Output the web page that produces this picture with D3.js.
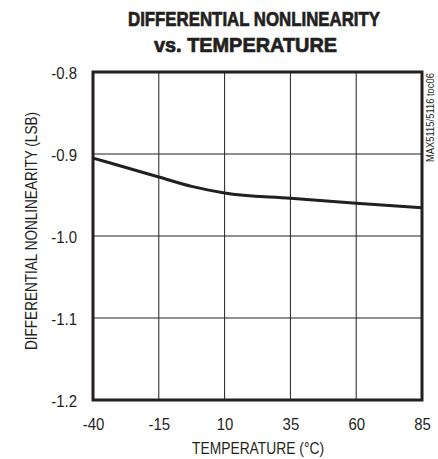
<!DOCTYPE html>
<html>
<head>
<meta charset="utf-8">
<script src="https://cdn.jsdelivr.net/npm/d3@7"></script>
<style>
  body { margin: 0; background: #fff; }
  text { font-family: "Liberation Sans", Arial, sans-serif; fill: #231f20; }
</style>
</head>
<body>
<div id="chart"></div>
<script>
var temps = [-40, -27.5, -15, -2.5, 10, 35, 60, 85];
var dnl = [-0.905, -0.9165, -0.928, -0.9395, -0.9475, -0.954, -0.960, -0.9655];
var xTicks = [-40, -15, 10, 35, 60, 85];
var yTicks = [-1.2, -1.1, -1.0, -0.9, -0.8];

var margin = {top: 72, right: 16, bottom: 59, left: 93},
    width = 438 - margin.left - margin.right,
    height = 459 - margin.top - margin.bottom,
    squeeze = 0.88;

var svg = d3.select("#chart").append("svg")
    .attr("width", 438)
    .attr("height", 459);

var g = svg.append("g")
    .attr("transform", "translate(" + margin.left + "," + margin.top + ")");

var x = d3.scaleLinear().domain([-40, 85]).range([0, width]);
var y = d3.scaleLinear().domain([-1.2, -0.8]).range([height, 0]);

// title (heavy condensed look)
svg.append("text")
    .attr("x", 128).attr("y", 26)
    .attr("textLength", 252).attr("lengthAdjust", "spacingAndGlyphs")
    .style("font-size", "20px").style("font-weight", "bold")
    .style("stroke", "#231f20").style("stroke-width", 0.7)
    .text("DIFFERENTIAL NONLINEARITY");
svg.append("text")
    .attr("x", 154).attr("y", 52)
    .attr("textLength", 183).attr("lengthAdjust", "spacingAndGlyphs")
    .style("font-size", "20px").style("font-weight", "bold")
    .style("stroke", "#231f20").style("stroke-width", 0.7)
    .text("vs. TEMPERATURE");

// grid
g.selectAll(".vgrid")
    .data(xTicks)
    .enter().append("line")
    .attr("x1", function(d) { return x(d); })
    .attr("x2", function(d) { return x(d); })
    .attr("y1", 0).attr("y2", height)
    .style("stroke", "#231f20").style("stroke-width", 1);

g.selectAll(".hgrid")
    .data(yTicks)
    .enter().append("line")
    .attr("x1", 0).attr("x2", width)
    .attr("y1", function(d) { return y(d); })
    .attr("y2", function(d) { return y(d); })
    .style("stroke", "#231f20").style("stroke-width", 1);

// tick labels (plain hyphen, narrow type)
var xAxis = d3.axisBottom(x).tickValues(xTicks).tickSize(0)
    .tickFormat(function(d) { return String(d); });
var yAxis = d3.axisLeft(y).tickValues(yTicks).tickSize(0)
    .tickFormat(function(d) { return d.toFixed(1); });

g.append("g").attr("transform", "translate(0," + height + ")").call(xAxis)
    .call(function(s) { s.select(".domain").remove(); })
    .selectAll("text")
    .attr("y", 30).attr("dy", 0)
    .attr("transform", "scale(" + squeeze + ",1)")
    .style("font-size", "17px").attr("fill", "#231f20");

g.append("g").call(yAxis)
    .call(function(s) { s.select(".domain").remove(); })
    .selectAll("text")
    .attr("x", -16 / squeeze).attr("dy", "0.36em")
    .attr("transform", "scale(" + squeeze + ",1)")
    .style("font-size", "17px").attr("fill", "#231f20");

// frame
g.append("rect")
    .attr("width", width).attr("height", height)
    .style("fill", "none").style("stroke", "#231f20").style("stroke-width", 3);

// data line
var line = d3.line()
    .x(function(d, i) { return x(temps[i]); })
    .y(function(d) { return y(d); })
    .curve(d3.curveMonotoneX);

g.append("path")
    .datum(dnl)
    .attr("d", line)
    .style("fill", "none").style("stroke", "#231f20").style("stroke-width", 3);

// axis titles
svg.append("text")
    .attr("x", 192).attr("y", 454)
    .attr("textLength", 132).attr("lengthAdjust", "spacingAndGlyphs")
    .style("font-size", "16px")
    .text("TEMPERATURE (\u00B0C)");

svg.append("text")
    .attr("transform", "translate(37,350) rotate(-90)")
    .attr("textLength", 238).attr("lengthAdjust", "spacingAndGlyphs")
    .style("font-size", "16px")
    .text("DIFFERENTIAL NONLINEARITY (LSB)");

// side label
svg.append("text")
    .attr("transform", "translate(434,162) rotate(-90)")
    .attr("textLength", 89).attr("lengthAdjust", "spacingAndGlyphs")
    .style("font-size", "10px")
    .text("MAX5115/5116 toc06");
</script>
</body>
</html>
